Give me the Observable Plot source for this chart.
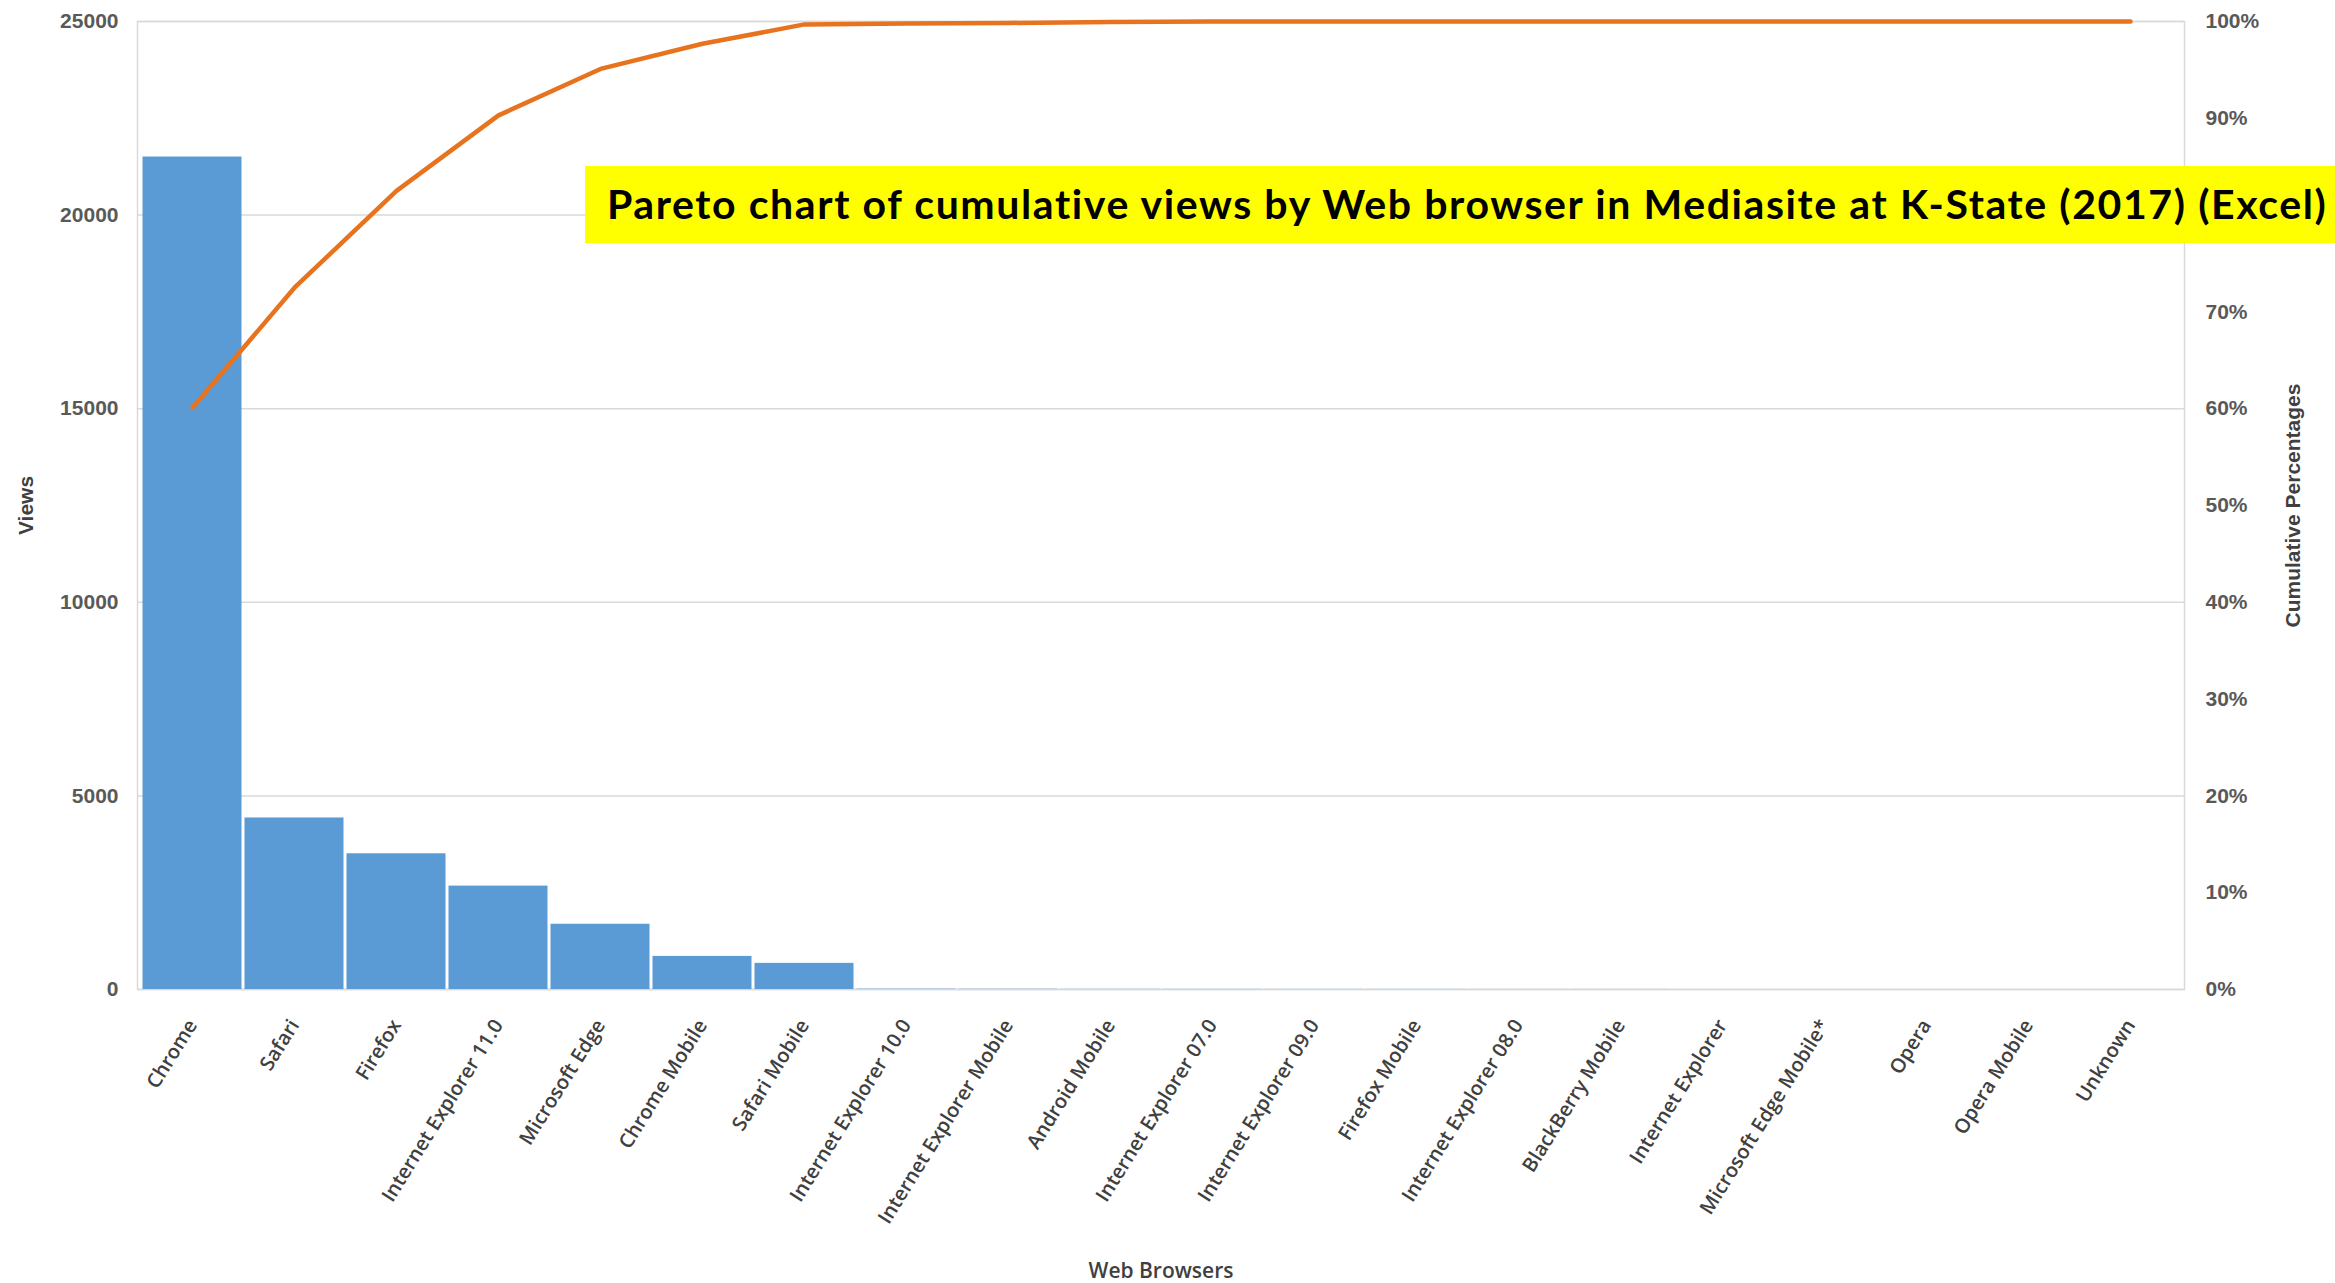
<!DOCTYPE html>
<html>
<head>
<meta charset="utf-8">
<script src="https://cdn.jsdelivr.net/npm/d3@7"></script>
<script src="https://cdn.jsdelivr.net/npm/@observablehq/plot@0.6"></script>
<style>
  html, body { margin: 0; padding: 0; background: #ffffff; overflow: hidden; }
  #wrap { position: relative; width: 2335px; height: 1283px; }
  #title {
    position: absolute; left: 585px; top: 166px; width: 1750px; height: 77px;
    background: #ffff00; color: #000; box-sizing: border-box; padding-left: 22px;
    font-family: Lato, "Liberation Sans", sans-serif; font-weight: bold; font-size: 41px;
    letter-spacing: 1.6px; line-height: 75px; white-space: nowrap; overflow: hidden;
  }
</style>
</head>
<body>
<div id="wrap">
  <div id="chart"></div>
  <div id="title">Pareto chart of cumulative views by Web browser in Mediasite at K-State (2017) (Excel)</div>
</div>
<script>
// Categories (web browsers), in Pareto order
const browsers = [
  "Chrome", "Safari", "Firefox", "Internet Explorer 11.0", "Microsoft Edge",
  "Chrome Mobile", "Safari Mobile", "Internet Explorer 10.0", "Internet Explorer Mobile",
  "Android Mobile", "Internet Explorer 07.0", "Internet Explorer 09.0", "Firefox Mobile",
  "Internet Explorer 08.0", "BlackBerry Mobile", "Internet Explorer", "Microsoft Edge Mobile*",
  "Opera", "Opera Mobile", "Unknown"
];
// Views per browser
const views = [21500, 4430, 3505, 2670, 1685, 855, 675, 10, 7, 5, 4, 3, 3, 2, 2, 1, 1, 1, 1, 1];
// Cumulative percentages
const cumulativePct = [60.1, 72.5, 82.5, 90.3, 95.1, 97.7, 99.7, 99.8, 99.85, 99.95, 100, 100, 100, 100, 100, 100, 100, 100, 100, 100];
// Axis ticks (the 80% label is hidden under the title box in the reference)
const viewTicks = [0, 5000, 10000, 15000, 20000, 25000];
const pctTicks = [0, 10, 20, 30, 40, 50, 60, 70, 90, 100];
const yMax = 25000;

const data = browsers.map((b, i) => ({browser: b, views: views[i], cum: cumulativePct[i]}));
const pctToViews = p => p / 100 * yMax;

const chart = Plot.plot({
  width: 2335,
  height: 1283,
  marginLeft: 137,
  marginRight: 151,
  marginTop: 21,
  marginBottom: 294,
  style: {background: "#ffffff", fontFamily: "'Liberation Sans', Arial, sans-serif"},
  x: {domain: browsers, padding: 0, label: null},
  y: {domain: [0, yMax], label: null},
  marks: [
    Plot.gridY(viewTicks, {stroke: "#d9d9d9", strokeOpacity: 1, strokeWidth: 1.5}),
    Plot.frame({stroke: "#d9d9d9", strokeWidth: 1.5}),
    Plot.barY(data, {x: "browser", y: "views", fill: "#5b9bd5", insetLeft: 1.5, insetRight: 1.5}),
    Plot.line(data, {x: "browser", y: d => pctToViews(d.cum), stroke: "#e8731f", strokeWidth: 4.5, strokeLinejoin: "round", strokeLinecap: "round"}),
    Plot.axisY({anchor: "left", ticks: viewTicks, tickSize: 0, tickPadding: 19, label: null,
      fontSize: 21, fontWeight: "bold", fill: "#595959", tickFormat: d => String(d)}),
    Plot.axisY({anchor: "right", ticks: pctTicks.map(pctToViews), tickSize: 0, tickPadding: 21, label: null,
      fontSize: 21, fontWeight: "bold", fill: "#595959", tickFormat: d => Math.round(d / yMax * 100) + "%"}),
    Plot.axisX({anchor: "bottom", tickSize: 0, tickPadding: 32, tickRotate: -58, label: null,
      fontSize: 20, fontWeight: 600, fontFamily: "'Open Sans', sans-serif", fill: "#404040"}),
    Plot.text(["Views"], {frameAnchor: "left", textAnchor: "middle", dx: -111, rotate: -90, fontSize: 21, fontWeight: "bold", fill: "#404040"}),
    Plot.text(["Cumulative Percentages"], {frameAnchor: "right", textAnchor: "middle", dx: 109, rotate: -90, fontSize: 21, fontWeight: "bold", fill: "#404040"}),
    Plot.text(["Web Browsers"], {frameAnchor: "bottom", dy: 288, fontSize: 21, fontWeight: 600, fontFamily: "'Open Sans', sans-serif", fill: "#404040"})
  ]
});
document.getElementById("chart").appendChild(chart);
</script>
</body>
</html>
